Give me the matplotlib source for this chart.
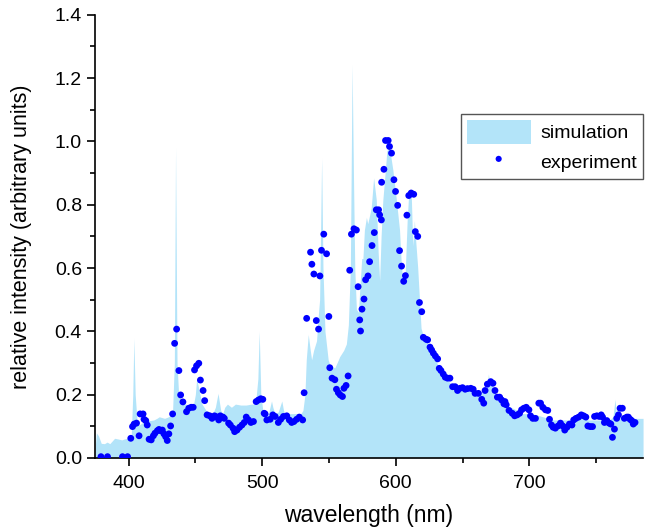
import numpy as np
import matplotlib
matplotlib.use("Agg")
import matplotlib.pyplot as plt
from matplotlib.ticker import MultipleLocator

plt.rcParams['font.family'] = ['Liberation Sans', 'DejaVu Sans']

# simulated spectrum (filled area)
sim_wl = [375.0, 376.0, 377.5, 379.6, 382.0, 384.0, 386.0, 389.6, 392.0, 395.0, 397.0, 399.5,
          402.0, 403.2, 404.0, 405.0, 406.5, 408.0, 410.0, 413.0, 416.0, 419.0, 421.6, 423.0,
          427.0, 430.0, 431.7, 433.0, 434.3, 435.2, 436.3, 437.5, 439.2, 441.0, 443.0, 445.0,
          448.0, 450.0, 451.0, 452.5, 455.0, 458.0, 460.0, 463.0, 465.0, 467.0, 469.0, 470.5,
          472.0, 474.0, 477.0, 480.0, 484.0, 488.0, 492.0, 495.0, 496.8, 497.8, 499.0, 500.5,
          502.0, 504.7, 507.0, 508.0, 509.5, 512.0, 514.7, 516.0, 517.0, 520.0, 525.0, 529.0,
          530.5, 532.0, 533.0, 534.5, 536.0, 537.0, 538.5, 540.7, 542.0, 543.0, 544.5, 545.5,
          547.0, 549.4, 551.0, 554.4, 556.0, 558.0, 561.0, 563.0, 564.5, 566.0, 567.3, 568.3,
          569.3, 570.5, 572.0, 573.3, 574.5, 575.4, 576.5, 578.0, 579.0, 581.6, 583.4, 585.4,
          586.8, 587.9, 589.0, 590.3, 592.0, 593.3, 594.8, 596.0, 597.8, 600.3, 602.8, 604.0,
          605.2, 607.0, 608.5, 609.7, 611.5, 612.7, 613.9, 615.0, 616.4, 617.7, 618.9, 620.6,
          622.6, 625.0, 627.5, 630.0, 632.5, 635.0, 637.0, 640.0, 643.0, 646.0, 650.0, 653.0,
          657.0, 660.0, 663.0, 666.0, 668.0, 669.3, 670.5, 672.0, 675.0, 677.0, 680.0, 682.0,
          686.0, 690.0, 694.0, 698.0, 702.0, 706.0, 710.0, 714.0, 718.0, 722.0, 727.0, 732.0,
          736.0, 740.0, 744.0, 748.0, 752.0, 756.0, 760.0, 762.5, 764.0, 765.0, 766.5, 767.5,
          772.0, 776.5, 781.0, 785.0]
sim_val = [0.030, 0.079, 0.070, 0.046, 0.045, 0.050, 0.045, 0.062, 0.060, 0.057, 0.060, 0.062,
           0.065, 0.200, 0.378, 0.200, 0.110, 0.104, 0.110, 0.120, 0.118, 0.120, 0.126, 0.130,
           0.125, 0.130, 0.136, 0.150, 0.300, 0.980, 0.300, 0.200, 0.183, 0.170, 0.170, 0.160,
           0.155, 0.200, 0.250, 0.220, 0.170, 0.150, 0.140, 0.140, 0.160, 0.204, 0.150, 0.140,
           0.160, 0.170, 0.160, 0.170, 0.167, 0.167, 0.170, 0.170, 0.250, 0.400, 0.200, 0.150,
           0.140, 0.140, 0.180, 0.160, 0.140, 0.145, 0.180, 0.150, 0.140, 0.140, 0.140, 0.140,
           0.150, 0.200, 0.310, 0.390, 0.340, 0.310, 0.340, 0.370, 0.450, 0.500, 0.947, 0.600,
           0.400, 0.310, 0.290, 0.285, 0.300, 0.320, 0.340, 0.360, 0.420, 0.600, 1.242, 0.900,
           0.600, 0.470, 0.460, 0.550, 0.630, 0.630, 0.720, 0.760, 0.740, 0.790, 0.885, 0.815,
           0.650, 0.560, 0.700, 0.815, 0.900, 0.970, 0.980, 0.960, 0.910, 0.820, 0.720, 0.620,
           0.560, 0.580, 0.750, 0.840, 0.840, 0.670, 0.750, 0.680, 0.600, 0.500, 0.410, 0.385,
           0.373, 0.350, 0.335, 0.310, 0.278, 0.260, 0.250, 0.240, 0.225, 0.220, 0.218, 0.215,
           0.215, 0.210, 0.210, 0.210, 0.220, 0.265, 0.230, 0.230, 0.200, 0.185, 0.175, 0.170,
           0.160, 0.152, 0.140, 0.140, 0.140, 0.135, 0.130, 0.125, 0.120, 0.120, 0.120, 0.120,
           0.125, 0.125, 0.120, 0.120, 0.120, 0.120, 0.120, 0.130, 0.185, 0.140, 0.170, 0.130,
           0.125, 0.125, 0.125, 0.125]

# measured spectrum (dots)
exp_wl = [379.4, 384.3, 395.5, 399.3, 401.7, 403.0, 404.2, 406.0, 407.9, 408.7, 410.9, 411.6,
          412.9, 414.0, 415.4, 417.0, 418.6, 419.8, 421.6, 422.8, 424.0, 425.3, 426.5, 427.8,
          429.0, 430.2, 431.5, 433.0, 434.5, 436.0, 437.7, 439.0, 440.7, 443.4, 445.1, 446.9,
          448.4, 449.4, 450.9, 452.6, 453.8, 455.8, 457.0, 458.8, 460.8, 462.5, 464.3, 465.7,
          467.5, 468.7, 470.7, 471.7, 474.9, 476.2, 478.2, 479.4, 481.2, 483.1, 484.9, 486.6,
          488.1, 489.8, 491.6, 493.5, 495.5, 497.2, 499.0, 500.5, 501.5, 502.2, 503.5, 506.0,
          508.0, 509.7, 512.1, 513.9, 515.9, 518.4, 520.3, 522.1, 523.8, 525.8, 527.8, 530.3,
          531.4, 533.3, 536.2, 537.2, 538.7, 540.5, 542.2, 543.2, 544.4, 546.1, 548.2, 549.9,
          550.6, 552.3, 554.4, 555.6, 557.0, 558.4, 560.1, 561.2, 562.8, 564.3, 565.5, 566.8,
          568.7, 570.5, 571.8, 573.0, 573.6, 574.7, 576.2, 577.4, 579.2, 580.4, 582.2, 583.9,
          585.4, 587.1, 587.9, 589.2, 589.4, 591.1, 592.3, 594.3, 595.3, 596.8, 598.6, 599.8,
          601.4, 602.8, 604.3, 605.9, 607.2, 608.3, 609.7, 611.5, 613.4, 614.6, 616.4, 617.7,
          619.4, 620.6, 622.6, 623.8, 625.6, 626.8, 628.1, 629.6, 631.3, 632.5, 633.8, 635.5,
          637.0, 638.7, 640.5, 642.5, 644.4, 646.2, 648.0, 649.9, 651.9, 653.6, 656.1, 657.9,
          659.3, 661.8, 664.3, 665.8, 666.8, 668.5, 671.0, 672.7, 674.2, 676.0, 677.7, 679.2,
          680.9, 681.7, 682.6, 684.7, 687.1, 688.9, 690.8, 692.6, 694.1, 695.8, 697.6, 699.6,
          700.8, 702.5, 704.5, 707.0, 708.3, 710.0, 712.0, 713.7, 715.0, 716.5, 717.7, 719.4,
          721.4, 723.2, 724.9, 726.4, 728.1, 729.9, 731.8, 733.1, 734.8, 736.8, 738.8, 740.5,
          742.2, 743.7, 745.5, 747.2, 748.7, 750.4, 752.2, 753.7, 754.7, 756.1, 757.9, 759.6,
          760.9, 762.1, 763.6, 765.3, 766.6, 767.8, 769.5, 771.0, 772.8, 774.0, 775.3, 776.5,
          777.7, 779.0]
exp_val = [0.004, 0.004, 0.004, 0.004, 0.062, 0.099, 0.107, 0.110, 0.070, 0.139, 0.139, 0.122,
           0.118, 0.104, 0.059, 0.057, 0.070, 0.078, 0.086, 0.090, 0.086, 0.088, 0.076, 0.067,
           0.055, 0.076, 0.101, 0.139, 0.362, 0.407, 0.276, 0.199, 0.177, 0.146, 0.157, 0.160,
           0.160, 0.278, 0.291, 0.299, 0.246, 0.213, 0.181, 0.136, 0.133, 0.125, 0.133, 0.130,
           0.120, 0.133, 0.129, 0.125, 0.110, 0.104, 0.094, 0.083, 0.088, 0.097, 0.104, 0.112,
           0.129, 0.120, 0.112, 0.115, 0.178, 0.183, 0.187, 0.185, 0.141, 0.139, 0.120, 0.122,
           0.136, 0.131, 0.112, 0.122, 0.131, 0.133, 0.120, 0.112, 0.115, 0.122, 0.129, 0.120,
           0.206, 0.441, 0.650, 0.612, 0.581, 0.434, 0.407, 0.575, 0.656, 0.707, 0.645, 0.447,
           0.285, 0.252, 0.247, 0.217, 0.206, 0.199, 0.194, 0.220, 0.229, 0.259, 0.593, 0.707,
           0.724, 0.720, 0.541, 0.436, 0.401, 0.470, 0.502, 0.563, 0.575, 0.620, 0.671, 0.712,
           0.784, 0.784, 0.768, 0.752, 0.871, 0.912, 1.003, 1.003, 0.984, 0.963, 0.879, 0.842,
           0.798, 0.655, 0.606, 0.558, 0.576, 0.767, 0.829, 0.837, 0.833, 0.715, 0.700, 0.491,
           0.462, 0.381, 0.375, 0.373, 0.350, 0.341, 0.331, 0.322, 0.313, 0.283, 0.276, 0.265,
           0.255, 0.252, 0.252, 0.225, 0.225, 0.213, 0.220, 0.222, 0.217, 0.219, 0.220, 0.217,
           0.204, 0.204, 0.185, 0.173, 0.213, 0.233, 0.241, 0.236, 0.213, 0.192, 0.192, 0.183,
           0.171, 0.178, 0.168, 0.150, 0.141, 0.133, 0.136, 0.141, 0.152, 0.157, 0.160, 0.152,
           0.133, 0.125, 0.125, 0.173, 0.173, 0.160, 0.152, 0.150, 0.122, 0.104, 0.097, 0.094,
           0.101, 0.110, 0.101, 0.088, 0.097, 0.107, 0.104, 0.120, 0.125, 0.129, 0.136, 0.133,
           0.129, 0.101, 0.099, 0.099, 0.131, 0.133, 0.131, 0.136, 0.129, 0.112, 0.118, 0.110,
           0.107, 0.065, 0.091, 0.125, 0.136, 0.157, 0.157, 0.125, 0.129, 0.129, 0.122, 0.118,
           0.107, 0.112]

fig = plt.figure(figsize=(6.65, 5.30), dpi=100)
ax = fig.add_axes([0.143, 0.136, 0.824, 0.836])

ax.fill_between(sim_wl, sim_val, 0, color='#b3e4f9', linewidth=0, label='simulation')
ax.scatter(exp_wl, exp_val, s=24, color='#0000ff', edgecolors='none', label='experiment', zorder=3)

ax.set_xlim(375, 785)
ax.set_ylim(0, 1.4)
ax.xaxis.set_major_locator(MultipleLocator(100))
ax.xaxis.set_minor_locator(MultipleLocator(50))
ax.yaxis.set_major_locator(MultipleLocator(0.2))
ax.yaxis.set_minor_locator(MultipleLocator(0.1))
ax.yaxis.set_major_formatter(plt.FormatStrFormatter('%.1f'))

for s in ['top', 'right']:
    ax.spines[s].set_visible(False)
for s in ['left', 'bottom']:
    ax.spines[s].set_linewidth(1.2)
ax.tick_params(which='major', direction='out', length=6, width=1.2, labelsize=14)
ax.tick_params(axis='x', which='major', pad=6)
ax.tick_params(which='minor', direction='out', length=3.5, width=1.2)

ax.set_xlabel('wavelength (nm)', fontsize=16.5, labelpad=9)
ax.set_ylabel('relative intensity (arbitrary units)', fontsize=15.5, labelpad=16)

leg = ax.legend(loc='upper right', bbox_to_anchor=(1.0, 0.776), fontsize=14,
                frameon=True, fancybox=False, edgecolor='#555555', framealpha=1,
                handlelength=3.3, handleheight=1.5, borderpad=0.3, labelspacing=0.3,
                handletextpad=0.5, borderaxespad=0, markerscale=0.9)
leg.get_frame().set_linewidth(1.0)

fig.savefig('out.png', dpi=100)
